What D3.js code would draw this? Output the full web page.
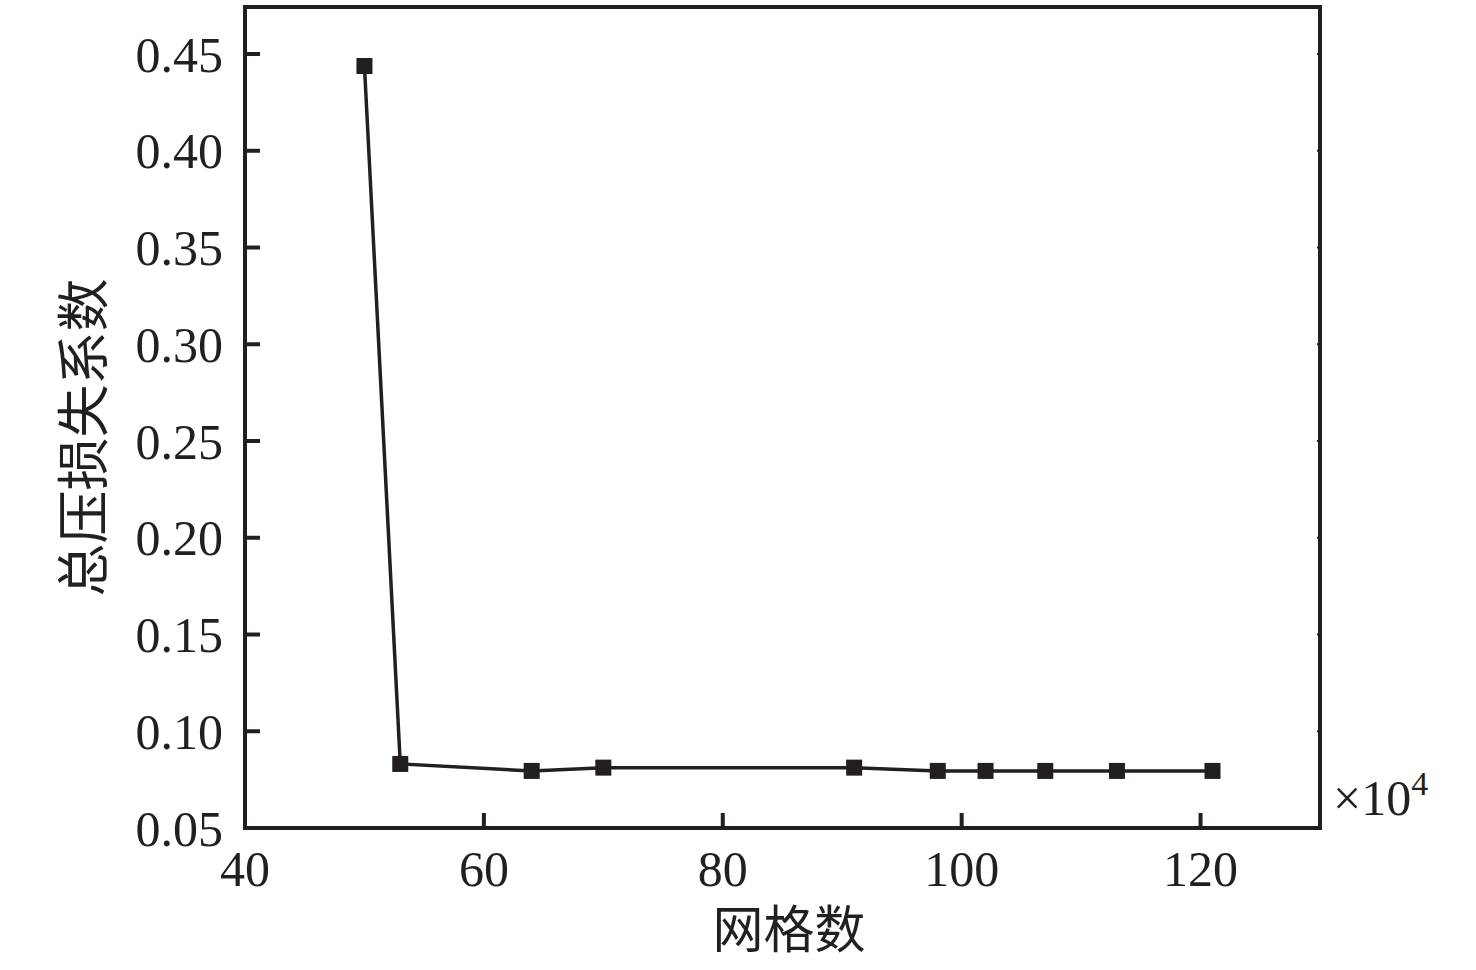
<!DOCTYPE html>
<html><head><meta charset="utf-8">
<script src="https://cdn.jsdelivr.net/npm/d3@7"></script>
<style>body{margin:0;background:#fff}</style>
</head><body>
<svg id="c" width="1476" height="970"></svg>
<script>
const meshCounts = [50, 53, 64, 70, 91, 98, 102, 107, 113, 121];
const lossCoef = [0.4438, 0.0831, 0.0795, 0.0812, 0.0812, 0.0795, 0.0795, 0.0795, 0.0795, 0.0795];
const xTicks = [40, 60, 80, 100, 120];
const yTicks = [0.05, 0.10, 0.15, 0.20, 0.25, 0.30, 0.35, 0.40, 0.45];
const xLabel = "网格数";
const yLabel = "总压损失系数";

const ink = "#231f20";
const font = "'Liberation Serif','Times New Roman','Noto Sans CJK SC',serif";
const svg = d3.select("#c");
const L = 245, R = 1320, T = 7, B = 828;
const x = d3.scaleLinear().domain([40, 130]).range([L, R]);
const y = d3.scaleLinear().domain([0.05, 0.4743]).range([B, T]);

// ticks inward
const g = svg.append("g");
g.selectAll(".yt").data(yTicks).enter().append("line")
  .attr("x1", L).attr("x2", L + 15).attr("y1", d => y(d)).attr("y2", d => y(d))
  .attr("stroke", ink).attr("stroke-width", 4);
g.selectAll(".yt2").data(yTicks).enter().append("line")
  .attr("x1", R).attr("x2", R - 3).attr("y1", d => y(d)).attr("y2", d => y(d))
  .attr("stroke", ink).attr("stroke-width", 2);
g.selectAll(".xt").data(xTicks).enter().append("line")
  .attr("x1", d => x(d)).attr("x2", d => x(d)).attr("y1", B).attr("y2", B - 15)
  .attr("stroke", ink).attr("stroke-width", 4);

// tick labels
g.selectAll(".yl").data(yTicks).enter().append("text")
  .attr("x", L - 22).attr("y", d => y(d)).attr("dy", "0.35em")
  .attr("text-anchor", "end").attr("font-family", font).attr("font-size", 50)
  .attr("fill", ink).text(d => d3.format(".2f")(d));
g.selectAll(".xl").data(xTicks).enter().append("text")
  .attr("x", d => x(d)).attr("y", 886)
  .attr("text-anchor", "middle").attr("font-family", font).attr("font-size", 50)
  .attr("fill", ink).text(d => d);

// line
svg.append("path").datum(meshCounts.map((m, i) => [m, lossCoef[i]]))
  .attr("fill", "none").attr("stroke", ink).attr("stroke-width", 3.5)
  .attr("d", d3.line().x(d => x(d[0])).y(d => y(d[1])));
const s = 16;
svg.selectAll(".m").data(meshCounts.map((m, i) => [m, lossCoef[i]])).enter().append("rect")
  .attr("x", d => x(d[0]) - s / 2).attr("y", d => y(d[1]) - s / 2)
  .attr("width", s).attr("height", s).attr("fill", ink);

// frame
svg.append("rect").attr("x", L).attr("y", T).attr("width", R - L).attr("height", B - T)
  .attr("fill", "none").attr("stroke", ink).attr("stroke-width", 4);

// axis titles
svg.append("text").attr("x", 789).attr("y", 948).attr("text-anchor", "middle")
  .attr("font-family", font).attr("font-size", 51).attr("fill", ink).text(xLabel);
svg.append("text").attr("transform", `translate(103,${(T + B) / 2 + 20}) rotate(-90)`)
  .attr("text-anchor", "middle").attr("font-family", font).attr("font-size", 53)
  .attr("fill", ink).text(yLabel);

// exponent
const ex = svg.append("text").attr("x", 1333).attr("y", 815).attr("font-family", font)
  .attr("font-size", 50).attr("fill", ink);
ex.append("tspan").text("×10");
ex.append("tspan").attr("dy", -20).attr("font-size", 34).text("4");
</script>
</body></html>
